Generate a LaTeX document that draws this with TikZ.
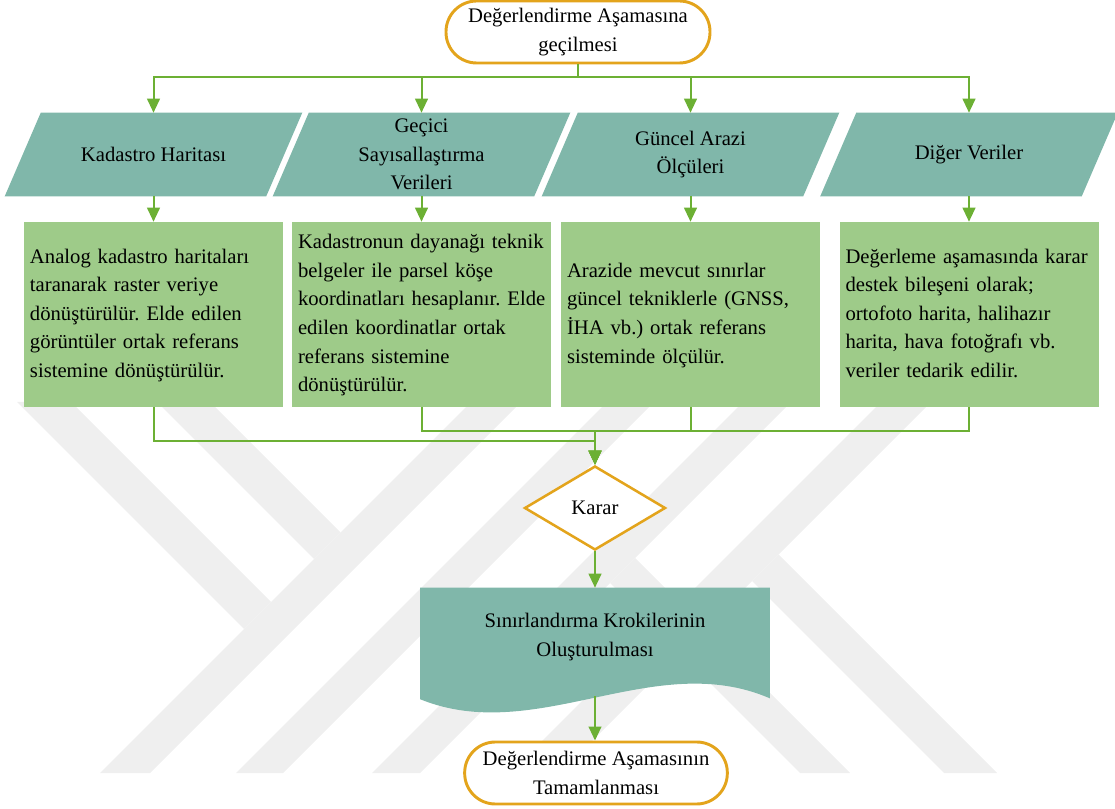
\documentclass[tikz,border=0pt]{standalone}
\usepackage{fontspec}
\setmainfont{Liberation Serif}
\usetikzlibrary{shapes.geometric,arrows.meta,calc}
\frenchspacing

\definecolor{flowgold}{RGB}{227,164,28}
\definecolor{flowteal}{RGB}{128,183,170}
\definecolor{flowleaf}{RGB}{158,203,137}
\definecolor{flowline}{RGB}{108,176,52}
\definecolor{wmgray}{RGB}{239,239,239}

\pgfdeclarelayer{wmlayer}
\pgfdeclarelayer{shapelayer}
\pgfsetlayers{wmlayer,shapelayer,main}

% left-aligned block of fixed lines
\newcommand{\lineblock}[1]{\begin{tabular}{@{}l@{}}#1\end{tabular}}

\begin{document}
\begin{tikzpicture}[x=0.75pt,y=-0.75pt,
  txt/.style={font=\fontsize{15.5pt}{21.4pt}\selectfont, text=black},
  pill/.style={txt, draw=flowgold, line width=2.2pt, fill=white,
    rounded corners=23pt, minimum width=198pt, minimum height=46.5pt,
    align=center, inner sep=0pt},
  slantbox/.style={txt, minimum width=195.75pt, minimum height=62.25pt,
    align=center, inner sep=0pt},
  leafbox/.style={txt, fill=flowleaf, minimum height=138.75pt,
    text width=185.25pt, inner xsep=4.5pt, inner ysep=0pt},
  decision/.style={txt, diamond, draw=flowgold, line width=1.9pt, fill=white,
    minimum width=105.75pt, minimum height=63pt, inner sep=1pt},
  docbox/.style={txt, minimum width=261.75pt, minimum height=73.5pt,
    align=center, inner sep=0pt},
  conn/.style={flowline, line width=1.5pt},
  arr/.style={conn, -{Triangle[width=9.5pt,length=10.5pt]}}
]
\useasboundingbox (0,0) rectangle (1115,809);

% watermark emblem behind the chart
\begin{pgfonlayer}{wmlayer}
  \begin{scope}
    \clip (0,402) rectangle (1115,773);
    \fill[wmgray] (471,402) -- (521,402) -- (150,773) -- (100,773) -- cycle;
    \fill[wmgray] (607,402) -- (654,402) -- (283,773) -- (236,773) -- cycle;
    \fill[wmgray] (743,402) -- (791,402) -- (420,773) -- (372,773) -- cycle;
    \fill[wmgray] (881,402) -- (931,402) -- (560,773) -- (510,773) -- cycle;
    \fill[wmgray] (17,402) -- (71,402) -- (271,602) -- (244,629) -- cycle;
    \fill[wmgray] (157,402) -- (210,402) -- (340.5,532.5) -- (314,559) -- cycle;
    \fill[wmgray] (635,558) -- (850,773) -- (800,773) -- (610,583) -- cycle;
    \fill[wmgray] (778.5,554.5) -- (997,773) -- (944,773) -- (752,581) -- cycle;
  \end{scope}
\end{pgfonlayer}

% nodes
\node[pill] (start) at (578,32) {Değerlendirme Aşamasına\\geçilmesi};

\node[slantbox] (p1) at (153.5,154.5) {Kadastro Haritası};
\node[slantbox] (p2) at (421.5,154.5) {Geçici\\Sayısallaştırma\\Verileri};
\node[slantbox] (p3) at (690.5,154.5) {Güncel Arazi\\Ölçüleri};
\node[slantbox] (p4) at (969,154.5) {Diğer Veriler};

\node[leafbox] (b1) at (153.5,314.5) {\lineblock{Analog kadastro haritaları\\
  taranarak raster veriye\\ dönüştürülür. Elde edilen\\
  görüntüler ortak referans\\ sistemine dönüştürülür.}};
\node[leafbox] (b2) at (421.5,314.5) {\lineblock{Kadastronun dayanağı teknik\\
  belgeler ile parsel köşe\\ koordinatları hesaplanır. Elde\\
  edilen koordinatlar ortak\\ referans sistemine\\ dönüştürülür.}};
\node[leafbox] (b3) at (690.5,314.5) {\lineblock{Arazide mevcut sınırlar\\
  güncel tekniklerle (GNSS,\\ İHA vb.) ortak referans\\
  sisteminde ölçülür.}};
\node[leafbox] (b4) at (969,314.5) {\lineblock{Değerleme aşamasında karar\\
  destek bileşeni olarak;\\ ortofoto harita, halihazır\\
  harita, hava fotoğrafı vb.\\ veriler tedarik edilir.}};

\node[decision] (karar) at (595,508) {Karar};
\node[docbox] (doc) at (595,637) {Sınırlandırma Krokilerinin\\Oluşturulması};
\node[pill, minimum width=197pt] (finish) at (596,773)
  {Değerlendirme Aşamasının\\Tamamlanması};

% shape bodies drawn beneath the labels
\begin{pgfonlayer}{shapelayer}
  \foreach \n in {p1,p2,p3,p4}
    \fill[flowteal] ($(\n.north west)+(18,0)$) -- ($(\n.north east)+(18,0)$)
      -- ($(\n.south east)+(-18,0)$) -- ($(\n.south west)+(-18,0)$) -- cycle;
  \fill[flowteal] (doc.north west) -- (doc.north east)
    -- ($(doc.south east)+(0,12)$)
    .. controls ($(doc.south east)+(-116,-38)$) and ($(doc.south west)+(116,60)$)
    .. ($(doc.south west)+(0,13)$) -- cycle;
\end{pgfonlayer}

% connectors
\coordinate (split) at ($(start.south)+(0,13)$);
\draw[conn] (start.south) -- (split);
\foreach \n in {p1,p2,p3,p4}
  \draw[arr] (split) -| (\n.north);
\foreach \n/\m in {p1/b1,p2/b2,p3/b3,p4/b4}
  \draw[arr] (\n.south) -- (\m.north);

\draw[arr] (b1.south) -- ++(0,34) -| (karar.north);
\draw[arr] (b2.south) -- ++(0,24) -| (karar.north);
\draw[arr] (b3.south) -- ++(0,24) -| (karar.north);
\draw[arr] (b4.south) -- ++(0,24) -| (karar.north);

\draw[arr] (karar.south) -- (doc.north);
\coordinate (docb) at ($(doc.south)+(0,10)$);
\draw[arr] (docb) -- (docb |- finish.north);
\end{tikzpicture}
\end{document}
